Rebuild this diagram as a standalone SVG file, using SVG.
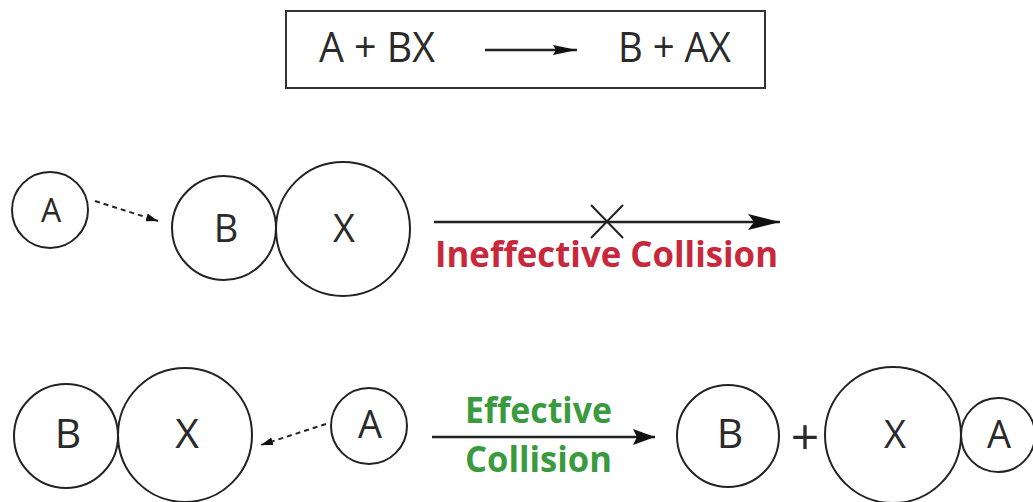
<svg xmlns="http://www.w3.org/2000/svg" width="1033" height="502" viewBox="0 0 1033 502">
<defs>
<style>
.c{fill:none;stroke:#222;stroke-width:2}
.t{font-family:"Open Sans","Liberation Sans",sans-serif;font-size:38px;fill:#2a2a2a;text-anchor:middle}
.ts{font-size:32px}
.tb{font-size:41px}
.eq{font-family:"Open Sans","Liberation Sans",sans-serif;font-size:42px;fill:#2a2a2a}
.ln{stroke:#222;stroke-width:2.5;fill:none}
.ds{stroke:#222;stroke-width:2;stroke-dasharray:5 4;fill:none}
.lb{font-family:"Open Sans","Liberation Sans",sans-serif;font-weight:bold;font-size:35px}
</style>
<marker id="ah" markerWidth="12" markerHeight="8" refX="12" refY="4" orient="auto" markerUnits="userSpaceOnUse" viewBox="0 0 12 8">
<path d="M0,0 L12,4 L0,8 Z" fill="#111"/>
</marker>
<marker id="ahL" markerWidth="32" markerHeight="16" refX="32" refY="8" orient="auto" markerUnits="userSpaceOnUse" viewBox="0 0 32 16">
<path d="M0,0 L32,8 L0,16 L6,8 Z" fill="#111"/>
</marker>
<marker id="ahM" markerWidth="22" markerHeight="16" refX="22" refY="8" orient="auto" markerUnits="userSpaceOnUse" viewBox="0 0 22 16">
<path d="M0,0 L22,8 L0,16 L4,8 Z" fill="#111"/>
</marker>
<marker id="ahS" markerWidth="24" markerHeight="10" refX="24" refY="5" orient="auto" markerUnits="userSpaceOnUse" viewBox="0 0 24 10">
<path d="M0,0 L24,5 L0,10 L3,5 Z" fill="#111"/>
</marker>
</defs>
<rect width="1033" height="502" fill="#fff"/>

<g id="equation">
<rect x="286" y="11" width="479" height="77" fill="#fff" stroke="#333" stroke-width="2"/>
<text class="eq" x="319" y="62" textLength="116" lengthAdjust="spacingAndGlyphs">A + BX</text>
<text class="eq" x="618" y="62" textLength="113" lengthAdjust="spacingAndGlyphs">B + AX</text>
</g>

<g id="r1-A"><circle class="c" cx="50" cy="210" r="38"/><text class="t ts" x="51" y="222">A</text></g>
<g id="r1-B"><circle class="c" cx="224" cy="228" r="52"/><text class="t" x="226" y="242">B</text></g>
<g id="r1-X"><circle class="c" cx="343" cy="229" r="67"/><text class="t" x="344" y="242">X</text></g>
<g id="r1-label"><text class="lb" x="435" y="267" fill="#c8283c" textLength="343" lengthAdjust="spacingAndGlyphs">Ineffective Collision</text></g>

<g id="r2-B"><circle class="c" cx="66" cy="436" r="52"/><text class="t tb" x="68" y="448">B</text></g>
<g id="r2-X"><circle class="c" cx="185" cy="435" r="67"/><text class="t tb" x="187" y="448">X</text></g>
<g id="r2-A"><circle class="c" cx="369" cy="426" r="38"/><text class="t" x="370" y="438">A</text></g>
<g id="r2-label">
<text class="lb" x="465" y="423" fill="#3a9a3e" textLength="147" lengthAdjust="spacingAndGlyphs">Effective</text>
<text class="lb" x="465" y="472" fill="#3a9a3e" textLength="147" lengthAdjust="spacingAndGlyphs">Collision</text>
</g>
<g id="p-B"><circle class="c" cx="728" cy="436" r="51"/><text class="t tb" x="730" y="448">B</text></g>
<g id="p-plus"><text class="t" x="805" y="455" style="font-size:50px">+</text></g>
<g id="p-X"><circle class="c" cx="893" cy="435" r="68"/><text class="t" x="895" y="448">X</text></g>
<g id="p-A"><circle class="c" cx="998" cy="435" r="37"/><text class="t" x="999" y="448">A</text></g>

<g id="connectors">
<line class="ln" x1="485" y1="50" x2="577" y2="50" marker-end="url(#ahS)"/>
<line class="ds" x1="95" y1="201" x2="158" y2="221" marker-end="url(#ah)"/>
<line class="ln" x1="434" y1="222" x2="780" y2="222" marker-end="url(#ahL)"/>
<path d="M591,205 L623,238 M623,205 L591,238" stroke="#222" stroke-width="2" fill="none"/>
<line class="ds" x1="326" y1="424" x2="261" y2="445" marker-end="url(#ah)"/>
<line class="ln" x1="432" y1="437" x2="655" y2="437" marker-end="url(#ahM)"/>
</g>
</svg>
